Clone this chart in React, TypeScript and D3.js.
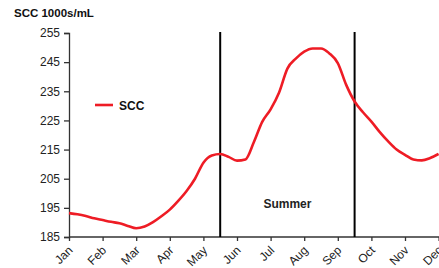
import { useEffect, useRef } from "react";
import * as d3 from "d3";

const months = ["Jan", "Feb", "Mar", "Apr", "May", "Jun", "Jul", "Aug", "Sep", "Oct", "Nov", "Dec"];
const yTicks = [185, 195, 205, 215, 225, 235, 245, 255];

// SCC readings, one every quarter month starting Jan 1
const sccValues = [
  193.2, 192.8, 192.2, 191.4, 190.8, 190.2, 189.7, 188.8, 188.0, 188.6,
  190.1, 192.1, 194.4, 197.4, 200.8, 205.0, 210.5, 213.0, 213.5, 212.5,
  211.2, 211.6, 217.5, 224.5, 228.8, 234.5, 242.8, 246.2, 248.6, 249.7,
  249.7, 248.0, 244.7, 237.2, 231.5, 227.8, 224.6, 221.0, 217.8, 215.0,
  213.2, 211.6, 211.3, 212.1, 213.5,
];

// summer period boundaries (in months from Jan)
const summerBounds = [4.5, 8.5];

const W = 439;
const H = 268;
const FONT = "'Liberation Sans', Arial, sans-serif";

export default function App() {
  const svgRef = useRef<SVGSVGElement>(null);

  useEffect(() => {
    document.body.style.margin = "0";
    if (!svgRef.current) return;
    const svg = d3.select(svgRef.current);
    svg.selectAll("*").remove();

    const x = d3.scaleLinear().domain([0, 11]).range([69, 438.6]);
    const y = d3.scaleLinear().domain([185, 255]).range([237, 33]);

    // title
    svg
      .append("text")
      .attr("x", 14)
      .attr("y", 17)
      .style("font-family", FONT)
      .style("font-size", "11.5px")
      .style("font-weight", "bold")
      .attr("fill", "#111")
      .text("SCC 1000s/mL");

    // y axis
    const yAxis = svg
      .append("g")
      .attr("transform", "translate(69,0)")
      .call(d3.axisLeft(y).tickValues(yTicks).tickSize(5).tickPadding(4));
    yAxis.select(".domain").attr("stroke", "#333").attr("stroke-width", 1.3);
    yAxis.selectAll(".tick line").attr("stroke", "#333").attr("stroke-width", 1.3);
    yAxis
      .selectAll(".tick text")
      .style("font-family", FONT)
      .style("font-size", "12px")
      .attr("fill", "#222");

    // x axis
    const xAxis = svg
      .append("g")
      .attr("transform", "translate(0,237)")
      .call(
        d3
          .axisBottom(x)
          .tickValues(d3.range(12))
          .tickFormat((d) => months[d as number])
          .tickSize(4)
          .tickSizeOuter(0),
      );
    xAxis.select(".domain").attr("d", `M69,0H${W}`).attr("stroke", "#333").attr("stroke-width", 1.3);
    xAxis.selectAll(".tick line").attr("stroke", "#333").attr("stroke-width", 1.3);
    xAxis
      .selectAll(".tick text")
      .style("font-family", FONT)
      .style("font-size", "12px")
      .attr("fill", "#222")
      .attr("text-anchor", "end")
      .attr("dy", "0")
      .attr("transform", "translate(4,14) rotate(-45)")
      .attr("y", 0);

    // summer boundary lines
    svg
      .selectAll(".bound")
      .data(summerBounds)
      .enter()
      .append("line")
      .attr("x1", (d) => x(d))
      .attr("x2", (d) => x(d))
      .attr("y1", 32)
      .attr("y2", 237)
      .attr("stroke", "#000")
      .attr("stroke-width", 2);

    svg
      .append("text")
      .attr("x", x((summerBounds[0] + summerBounds[1]) / 2))
      .attr("y", 208)
      .attr("text-anchor", "middle")
      .style("font-family", FONT)
      .style("font-size", "12px")
      .style("font-weight", "bold")
      .attr("fill", "#222")
      .text("Summer");

    // SCC line
    const line = d3
      .line<number>()
      .x((_d, i) => x(i * 0.25))
      .y((d) => y(d))
      .curve(d3.curveMonotoneX);

    svg
      .append("path")
      .datum(sccValues)
      .attr("d", line)
      .attr("fill", "none")
      .attr("stroke", "#ee1c25")
      .attr("stroke-width", 2.6);

    // legend
    const legend = svg.append("g").attr("transform", "translate(95,105)");
    legend
      .append("line")
      .attr("x1", 0)
      .attr("x2", 18)
      .attr("stroke", "#ee1c25")
      .attr("stroke-width", 2.6);
    legend
      .append("text")
      .attr("x", 24)
      .attr("y", 4.5)
      .style("font-family", FONT)
      .style("font-size", "12px")
      .style("font-weight", "bold")
      .attr("fill", "#111")
      .text("SCC");
  }, []);

  return <svg ref={svgRef} width={W} height={H} style={{ display: "block" }} />;
}
